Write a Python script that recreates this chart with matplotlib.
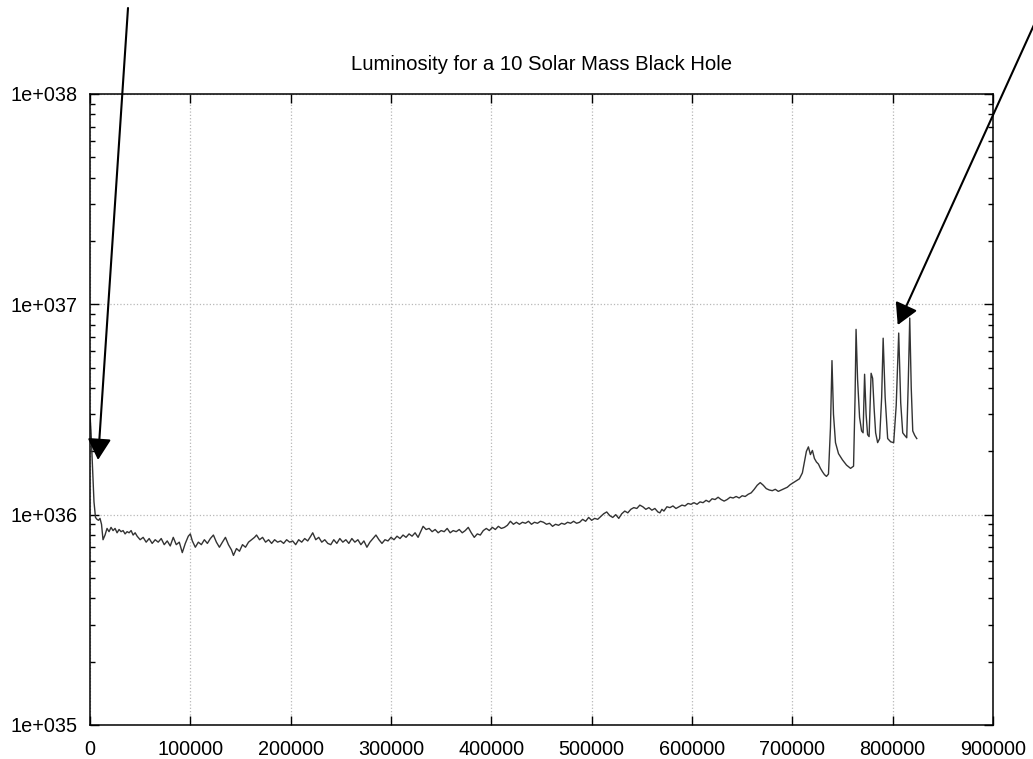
import numpy as np
import matplotlib.pyplot as plt
from matplotlib.ticker import FixedLocator, LogLocator, NullFormatter, FuncFormatter

plt.rcParams['font.family'] = ['Liberation Sans', 'DejaVu Sans']

# time steps (thousands) and luminosity (units of 1e36 erg/s)
time_k = [
    0, 1, 2.5, 4, 5.5, 7, 8.5, 10, 11.5, 13, 15, 17, 19, 21, 23, 25, 27, 29,
    31, 33, 35, 37, 39, 41, 43, 45, 47, 50, 53, 56, 59, 62, 65, 68, 71, 74,
    77, 80, 83, 86, 89, 92, 95, 98, 100, 102, 105, 108, 111, 114, 117, 120,
    123, 126, 129, 132, 135, 138, 141, 143, 146, 149, 152, 155, 158, 161,
    164, 166, 169, 172, 175, 178, 181, 184, 187, 190, 193, 196, 199, 202,
    205, 208, 211, 214, 217, 220, 222, 225, 228, 231, 234, 237, 240, 243,
    246, 249, 252, 255, 258, 261, 264, 267, 270, 273, 276, 279, 282, 285,
    288, 291, 294, 297, 300, 303, 306, 309, 312, 315, 318, 321, 324, 327,
    330, 332, 335, 338, 341, 344, 347, 350, 353, 356, 359, 362, 365, 368,
    371, 374, 377, 380, 383, 386, 389, 392, 395, 398, 401, 404, 407, 410,
    413, 416, 419, 422, 425, 428, 431, 434, 437, 440, 443, 446, 449, 452,
    455, 458, 461, 464, 467, 470, 473, 476, 479, 482, 485, 488, 491, 494,
    497, 500, 503, 506, 509, 512, 515, 518, 521, 524, 527, 530, 533, 536,
    539, 542, 545, 548, 551, 554, 557, 560, 563, 566, 568, 570, 572, 575,
    578, 581, 584, 587, 590, 593, 596, 599, 602, 605, 608, 611, 614, 617,
    620, 623, 626, 629, 632, 635, 638, 641, 644, 647, 650, 653, 656, 659,
    662, 665, 668, 671, 674, 677, 680, 683, 686, 689, 692, 695, 698, 701,
    704, 707, 710, 712, 714, 716, 718, 720, 722, 724, 726, 728, 730, 732,
    734, 736, 738, 739.5, 741, 743, 746, 750, 754, 758, 761, 762.5, 763.5,
    765, 767, 769, 770.5, 772, 773.5, 775, 776.5, 778.5, 780, 781.5, 783,
    785, 787, 789, 790.5, 792.5, 795, 798, 801, 803.5, 806, 808, 810, 812,
    814, 815.5, 817, 818.5, 820, 822, 824,
]
lum_e36 = [
    3.0, 2.5, 1.7, 1.15, 0.97, 0.95, 0.94, 0.96, 0.9, 0.76, 0.8, 0.86, 0.83,
    0.87, 0.84, 0.86, 0.82, 0.85, 0.83, 0.84, 0.81, 0.83, 0.82, 0.84, 0.8,
    0.82, 0.79, 0.76, 0.78, 0.74, 0.77, 0.73, 0.76, 0.74, 0.77, 0.72, 0.75,
    0.71, 0.78, 0.72, 0.74, 0.66, 0.73, 0.79, 0.81, 0.75, 0.70, 0.74, 0.72,
    0.76, 0.73, 0.77, 0.80, 0.74, 0.70, 0.74, 0.78, 0.72, 0.68, 0.64, 0.69,
    0.67, 0.72, 0.70, 0.74, 0.76, 0.78, 0.80, 0.76, 0.78, 0.74, 0.76, 0.73,
    0.76, 0.74, 0.75, 0.73, 0.76, 0.74, 0.75, 0.72, 0.76, 0.74, 0.77, 0.75,
    0.79, 0.82, 0.76, 0.78, 0.74, 0.76, 0.73, 0.72, 0.76, 0.73, 0.77, 0.74,
    0.76, 0.73, 0.77, 0.74, 0.76, 0.72, 0.75, 0.70, 0.74, 0.77, 0.80, 0.76,
    0.73, 0.76, 0.75, 0.78, 0.76, 0.79, 0.77, 0.80, 0.78, 0.81, 0.79, 0.82,
    0.78, 0.84, 0.88, 0.85, 0.86, 0.83, 0.85, 0.82, 0.84, 0.83, 0.86, 0.82,
    0.84, 0.83, 0.85, 0.82, 0.84, 0.87, 0.82, 0.78, 0.81, 0.80, 0.84, 0.86,
    0.84, 0.87, 0.85, 0.88, 0.86, 0.87, 0.89, 0.93, 0.90, 0.92, 0.90, 0.92,
    0.91, 0.93, 0.90, 0.92, 0.91, 0.93, 0.92, 0.90, 0.91, 0.88, 0.90, 0.89,
    0.91, 0.90, 0.92, 0.91, 0.93, 0.91, 0.92, 0.95, 0.93, 0.97, 0.94, 0.96,
    0.95, 0.98, 1.01, 1.03, 0.99, 0.97, 1.0, 0.96, 1.01, 1.04, 1.02, 1.06,
    1.08, 1.07, 1.11, 1.09, 1.06, 1.08, 1.05, 1.07, 1.03, 1.02, 1.06, 1.04,
    1.09, 1.08, 1.10, 1.07, 1.09, 1.11, 1.10, 1.13, 1.12, 1.14, 1.12, 1.15,
    1.14, 1.17, 1.15, 1.19, 1.18, 1.21, 1.18, 1.16, 1.18, 1.21, 1.20, 1.22,
    1.20, 1.23, 1.22, 1.25, 1.27, 1.32, 1.38, 1.42, 1.38, 1.33, 1.31, 1.30,
    1.32, 1.29, 1.31, 1.33, 1.35, 1.39, 1.42, 1.45, 1.48, 1.58, 1.78, 2.0,
    2.1, 1.93, 2.02, 1.85, 1.78, 1.74, 1.66, 1.60, 1.55, 1.52, 1.56, 2.6,
    5.4, 3.0, 2.2, 1.95, 1.82, 1.72, 1.66, 1.70, 3.6, 7.6, 4.4, 2.9, 2.5,
    2.45, 4.65, 3.0, 2.4, 2.35, 4.7, 4.45, 3.2, 2.45, 2.2, 2.3, 3.6, 6.9,
    3.6, 2.3, 2.22, 2.2, 3.3, 7.3, 3.4, 2.45, 2.38, 2.32, 4.2, 8.6, 4.0,
    2.5, 2.38, 2.3,
]

x_ticks = [0, 100000, 200000, 300000, 400000, 500000, 600000, 700000, 800000, 900000]
y_ticks = [1e35, 1e36, 1e37, 1e38]

# arrow tips (data coords) and tails (figure pixels)
arrow_tips = [(8000, 1.82e36), (805000, 7.97e36)]
arrow_tails = [(128, 751), (1043, 754)]

t = np.array(time_k) * 1000
lum = np.array(lum_e36) * 1e36

fig = plt.figure(figsize=(10.33, 7.59), dpi=100)
ax = fig.add_axes([0.0871, 0.0448, 0.8742, 0.8314])

ax.plot(t, lum, color='#333333', lw=1.0)

ax.set_yscale('log')
ax.set_xlim(0, 900000)
ax.set_ylim(1e35, 1e38)

ax.xaxis.set_major_locator(FixedLocator(x_ticks))
ax.xaxis.set_major_formatter(FuncFormatter(lambda v, _: f"{int(v)}"))
ax.yaxis.set_major_locator(FixedLocator(y_ticks))
ax.yaxis.set_major_formatter(FuncFormatter(lambda v, _: f"1e+0{int(round(np.log10(v)))}"))
ax.yaxis.set_minor_locator(LogLocator(base=10, subs=np.arange(2, 10)))
ax.yaxis.set_minor_formatter(NullFormatter())

ax.tick_params(which='both', direction='in', top=True, right=True,
               labelsize=14.3, width=1.0, colors='black')
ax.tick_params(which='major', length=6.5)
ax.tick_params(axis='x', which='major', pad=10.5)
ax.tick_params(axis='y', which='major', pad=9)
ax.tick_params(which='minor', length=3.5)

ax.grid(True, which='major', linestyle=':', color='#b8b8b8', lw=0.9)
for s in ax.spines.values():
    s.set_linewidth(1.1)

ax.set_title('Luminosity for a 10 Solar Mass Black Hole', fontsize=14.6, pad=17)

for tip, tail in zip(arrow_tips, arrow_tails):
    ax.annotate('', xy=tip, xycoords='data',
                xytext=tail, textcoords='figure pixels',
                arrowprops=dict(arrowstyle='-|>,head_length=1.3,head_width=0.72',
                                color='black', lw=1.5, shrinkA=0, shrinkB=0),
                annotation_clip=False)

fig.savefig('out.png', dpi=100)
